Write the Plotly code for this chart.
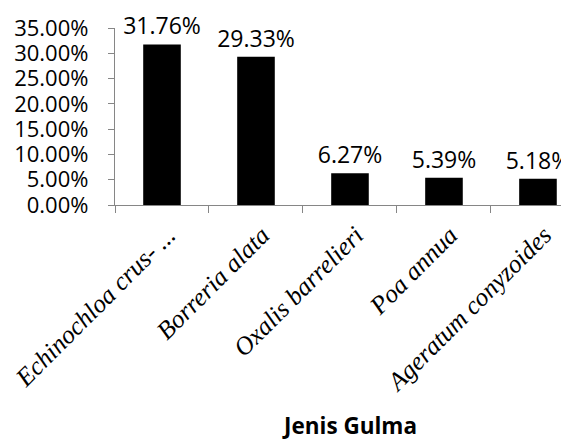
import plotly.graph_objects as go

categories = ["Echinochloa crus- ...", "Borreria alata", "Oxalis barrelieri", "Poa annua", "Ageratum conyzoides"]
values = [31.76, 29.33, 6.27, 5.39, 5.18]
y_ticks = [0, 5, 10, 15, 20, 25, 30, 35]
x_title = "Jenis Gulma"

axis_gray = "#868686"

fig = go.Figure(go.Bar(
    x=categories, y=values,
    marker=dict(color="black", line=dict(width=0)),
    texttemplate="%{y:.2f}%", textposition="outside",
    textfont=dict(family="Open Sans", size=23, color="black"),
    cliponaxis=False, constraintext="none",
))

fig.update_layout(
    width=561, height=441,
    margin=dict(l=115, r=0, t=28, b=236),
    plot_bgcolor="white", paper_bgcolor="white",
    bargap=0.6, showlegend=False,
    xaxis=dict(
        type="category", range=[-0.5, 4.245],
        showline=True, linecolor=axis_gray, linewidth=1.3,
        ticks="outside", tickson="boundaries", ticklen=7, tickcolor=axis_gray, tickwidth=1.3,
        tickangle=-45, automargin=False,
        ticklabelshift=6, ticklabelstandoff=4,
        tickfont=dict(family="Liberation Serif", size=25.5, color="black", style="italic"),
        showgrid=False,
    ),
    yaxis=dict(
        range=[0, 35], tickvals=y_ticks,
        ticktext=[f"{v:.2f}%" for v in y_ticks],
        showline=True, linecolor=axis_gray, linewidth=1.3,
        ticks="outside", ticklen=6, tickcolor=axis_gray, tickwidth=1.3,
        tickfont=dict(family="Open Sans", size=22, color="black"),
        ticklabelstandoff=15, automargin=False,
        showgrid=False, zeroline=False,
    ),
    annotations=[dict(
        text=x_title, xref="x", x=2, yref="paper", y=-1.245,
        xanchor="center", yanchor="middle", showarrow=False,
        font=dict(family="Open Sans", size=22.5, color="black", weight="bold"),
    )],
)

fig.write_html("out.html")
